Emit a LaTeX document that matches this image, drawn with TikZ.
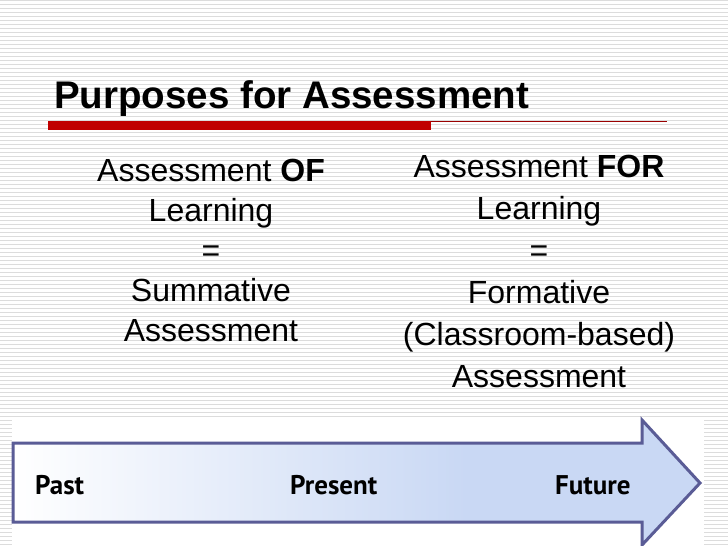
\documentclass[tikz,border=0pt]{standalone}
\usepackage{fontspec}
\setmainfont{Liberation Sans}
\newfontfamily\arrowfont{PT Sans}
\definecolor{stripe}{HTML}{DCDCDC}
\definecolor{barred}{HTML}{C00000}
\definecolor{ablue}{HTML}{C9D8F4}
\definecolor{aborder}{HTML}{5A5C96}
\pgfdeclarehorizontalshading{arrowshade}{100bp}{color(0bp)=(white); color(25bp)=(white); color(58bp)=(ablue); color(100bp)=(ablue)}
\tikzset{
  bodytext/.style={font=\fontsize{32}{40}\selectfont, align=center, inner sep=0pt, text=black},
  timelabel/.style={font=\arrowfont\bfseries\fontsize{27}{30}\selectfont, inner sep=0pt, anchor=base west, text=black},
}
\begin{document}
\begin{tikzpicture}[x=1pt,y=-1pt]
\useasboundingbox (0,0) rectangle (728,546);
\fill[white] (0,0) rectangle (728,546);
% background stripes
\foreach \i in {0,...,136} {
  \fill[stripe] (0,{\i*4}) rectangle (728,{\i*4+1.3});
}
% white panel behind arrow
\fill[white] (12,418) rectangle (704,546);
% title
\node[anchor=base west, inner sep=0pt, font=\bfseries\fontsize{38.5}{40}\selectfont] (title) at (54,108) {Purposes for Assessment};
\fill[barred] (48,121) rectangle (431,130);
\draw[barred!80!black, line width=1pt] (431,121.5) -- (667,121.5);
% columns
\node[bodytext, anchor=north] (left) at (211,159) {Assessment \textbf{OF}\\Learning\\=\\Summative\\Assessment};
\node[bodytext, anchor=north, font=\fontsize{32}{42}\selectfont] (right) at (539,155) {Assessment \textbf{FOR}\\Learning\\=\\Formative\\(Classroom-based)\\Assessment};
% arrow
\path[shading=arrowshade, draw=aborder, line width=3pt, line join=miter]
  (13,443) -- (642,443) -- (642,420) -- (700,483) -- (642,545) -- (642,522) -- (13,522) -- cycle;
\node[timelabel] (past) at (35,494) {Past};
\node[timelabel] (present) at (290,494) {Present};
\node[timelabel] (future) at (555,494) {Future};
\end{tikzpicture}
\end{document}
